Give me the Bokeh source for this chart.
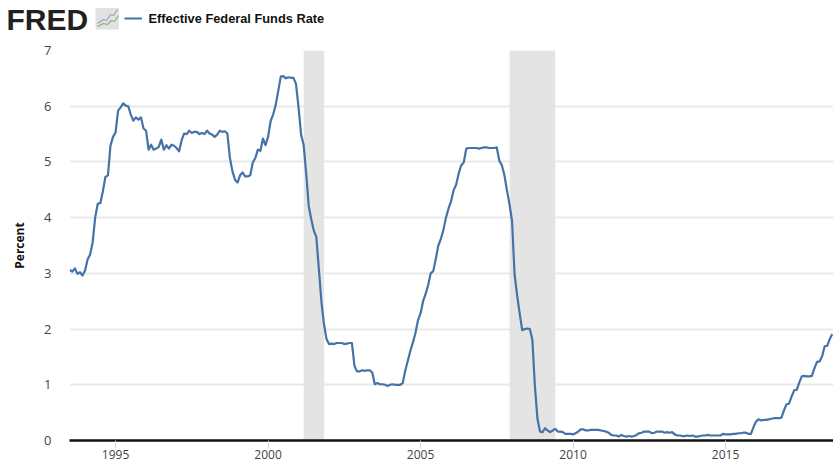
from bokeh.plotting import figure
from bokeh.embed import file_html
from bokeh.resources import INLINE
from bokeh.layouts import column
from bokeh.core.properties import value
from bokeh.models import BoxAnnotation, FixedTicker, Range1d

start_year = 1993
start_month = 7
rate = [
    3.06, 3.03, 3.09, 2.99, 3.02, 2.96,
    3.05, 3.25, 3.34, 3.56, 4.01, 4.25, 4.26, 4.47, 4.73, 4.76, 5.29, 5.45,
    5.53, 5.92, 5.98, 6.05, 6.01, 6.00, 5.85, 5.74, 5.80, 5.76, 5.80, 5.60,
    5.56, 5.22, 5.31, 5.22, 5.24, 5.27, 5.40, 5.22, 5.30, 5.24, 5.31, 5.29,
    5.25, 5.19, 5.39, 5.51, 5.50, 5.56, 5.52, 5.54, 5.54, 5.50, 5.52, 5.50,
    5.56, 5.51, 5.49, 5.45, 5.49, 5.56, 5.54, 5.55, 5.51, 5.07, 4.83, 4.68,
    4.63, 4.76, 4.81, 4.74, 4.74, 4.76, 4.99, 5.07, 5.22, 5.20, 5.42, 5.30,
    5.45, 5.73, 5.85, 6.02, 6.27, 6.53, 6.54, 6.50, 6.52, 6.51, 6.51, 6.40,
    5.98, 5.49, 5.31, 4.80, 4.21, 3.97, 3.77, 3.65, 3.07, 2.49, 2.09, 1.82,
    1.73, 1.74, 1.73, 1.75, 1.75, 1.75, 1.73, 1.74, 1.75, 1.75, 1.34, 1.24,
    1.24, 1.26, 1.25, 1.26, 1.26, 1.22, 1.01, 1.03, 1.01, 1.01, 1.00, 0.98,
    1.00, 1.01, 1.00, 1.00, 1.00, 1.03, 1.26, 1.43, 1.61, 1.76, 1.93, 2.16,
    2.28, 2.50, 2.63, 2.79, 3.00, 3.04, 3.26, 3.50, 3.62, 3.78, 4.00, 4.16,
    4.29, 4.49, 4.59, 4.79, 4.94, 4.99, 5.24, 5.25, 5.25, 5.25, 5.25, 5.24,
    5.25, 5.26, 5.26, 5.25, 5.25, 5.25, 5.26, 5.02, 4.94, 4.76, 4.49, 4.24,
    3.94, 2.98, 2.61, 2.28, 1.98, 2.00, 2.01, 2.00, 1.81, 0.97, 0.39, 0.16,
    0.15, 0.22, 0.18, 0.15, 0.18, 0.21, 0.16, 0.16, 0.15, 0.12, 0.12, 0.12,
    0.11, 0.13, 0.16, 0.20, 0.20, 0.18, 0.18, 0.19, 0.19, 0.19, 0.19, 0.18,
    0.17, 0.16, 0.14, 0.10, 0.09, 0.09, 0.07, 0.10, 0.08, 0.07, 0.08, 0.07,
    0.08, 0.10, 0.13, 0.14, 0.16, 0.16, 0.16, 0.13, 0.14, 0.16, 0.16, 0.16,
    0.14, 0.15, 0.14, 0.15, 0.11, 0.09, 0.09, 0.08, 0.08, 0.09, 0.08, 0.09,
    0.07, 0.07, 0.08, 0.09, 0.09, 0.10, 0.09, 0.09, 0.09, 0.09, 0.09, 0.12,
    0.11, 0.11, 0.11, 0.12, 0.12, 0.13, 0.13, 0.14, 0.14, 0.12, 0.12, 0.24,
    0.34, 0.38, 0.36, 0.37, 0.37, 0.38, 0.39, 0.40, 0.40, 0.40, 0.41, 0.54,
    0.65, 0.66, 0.79, 0.90, 0.91, 1.04, 1.15, 1.16, 1.15, 1.15, 1.16, 1.30,
    1.41, 1.42, 1.51, 1.69, 1.70, 1.82, 1.91,
]
recession_start = [2001.17, 2007.92]
recession_end = [2001.84, 2009.42]
x_ticks = [1995, 2000, 2005, 2010, 2015]
y_ticks = [0, 1, 2, 3, 4, 5, 6, 7]
series_name = "Effective Federal Funds Rate"
logo_text = "FRED"

dates = [start_year + (start_month - 1 + i) / 12 for i in range(len(rate))]

# Header strip: logo and series key, in a pixel-like coordinate space
h = figure(width=833, height=40, output_backend="svg", toolbar_location=None,
           x_range=Range1d(0, 833), y_range=Range1d(40, 0),
           min_border=0, min_border_left=0, min_border_right=0,
           min_border_top=0, min_border_bottom=0,
           background_fill_color="white", border_fill_color="white")
h.frame_align = False
h.axis.visible = False
h.grid.visible = False
h.outline_line_color = None
h.text(x=[6], y=[18.5], text=[logo_text], text_font=value("Liberation Sans"),
       text_font_style="bold", text_font_size="30px", text_color="#231f20",
       text_baseline="middle", text_align="left")
h.quad(left=[95], right=[118.5], top=[7.5], bottom=[29], fill_color="#e2e2e2", line_color=None)
h.line([97, 103, 106, 110, 113, 117], [23, 19, 20, 14, 15, 9], line_color="#8ba6c6", line_width=1.2)
h.line([97, 103, 107, 111, 114, 118], [26, 23, 24, 20, 21, 15], line_color="#8db36f", line_width=1.2)
h.line([124, 141.5], [18, 18], line_color="#4572a7", line_width=2.2)
h.text(x=[148], y=[18], text=[series_name], text_font=value("Liberation Sans"),
       text_font_style="bold", text_font_size="12.8px", text_color="#111111",
       text_baseline="middle", text_align="left")

p = figure(width=833, height=423, output_backend="svg", toolbar_location=None,
           x_range=Range1d(1993.49, 2018.54), y_range=Range1d(0, 7),
           min_border_left=69, min_border_right=0, min_border_top=10, min_border_bottom=23,
           background_fill_color="white", border_fill_color="white")
p.frame_align = False
p.outline_line_color = None

for s, e in zip(recession_start, recession_end):
    p.add_layout(BoxAnnotation(left=s, right=e, fill_color="#e4e4e4", fill_alpha=1,
                               line_color=None, level="underlay"))

p.line(dates, rate, line_color="#4572a7", line_width=2.2, line_join="round")

p.xgrid.visible = False
p.ygrid.ticker = FixedTicker(ticks=y_ticks)
p.ygrid.grid_line_color = "#e9e9e9"
p.ygrid.grid_line_width = 2
p.ygrid.level = "underlay"

xa = p.xaxis[0]
xa.ticker = FixedTicker(ticks=x_ticks)
xa.axis_line_color = "#111111"
xa.axis_line_width = 2.5
xa.major_tick_line_color = "#ccd6eb"
xa.major_tick_out = 8
xa.major_tick_in = 0
xa.minor_tick_line_color = None
xa.major_label_standoff = 1
xa.major_label_text_font = "Open Sans"
xa.major_label_text_font_size = "12px"
xa.major_label_text_color = "#444444"

ya = p.yaxis[0]
ya.ticker = FixedTicker(ticks=y_ticks)
ya.axis_line_color = None
ya.major_tick_line_color = None
ya.minor_tick_line_color = None
ya.major_label_standoff = 12
ya.major_label_text_font = "Open Sans"
ya.major_label_text_font_size = "13px"
ya.major_label_text_color = "#444444"
ya.axis_label = "Percent"
ya.axis_label_text_font = "Open Sans"
ya.axis_label_text_font_size = "12px"
ya.axis_label_text_font_style = "bold"
ya.axis_label_text_color = "#111111"
ya.axis_label_standoff = 13

page = column(h, p, spacing=0)
open("out.html", "w").write(file_html(page, INLINE))
